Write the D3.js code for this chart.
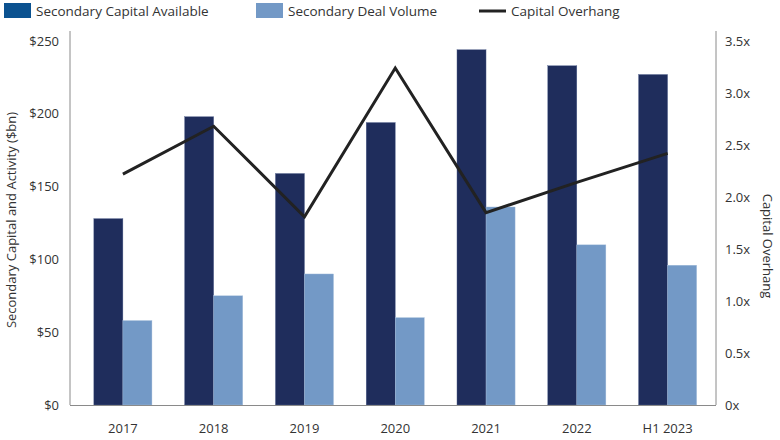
<!DOCTYPE html>
<html><head><meta charset="utf-8">
<script src="https://cdn.jsdelivr.net/npm/d3@7"></script>
<style>body{margin:0;background:#fff}svg{display:block;font-family:"Open Sans",sans-serif}</style>
</head><body><svg id="c" width="780" height="440"></svg>
<script>
const categories = ["2017","2018","2019","2020","2021","2022","H1 2023"];
const capitalAvailable = [128,198,159,194,244,233,227];
const dealVolume = [58,75,90,60,136,110,96];
const overhang = [2.22,2.68,1.81,3.24,1.85,2.14,2.42];
const leftTicks = [0,50,100,150,200,250];
const rightTicks = [0,0.5,1,1.5,2,2.5,3,3.5];

const svg = d3.select("#c");
const x0 = 77.5, x1 = 713, yTop = 41, yBot = 405, axL = 70, axR = 716;
const x = d3.scaleBand().domain(categories).range([x0, x1]).paddingInner(0.36).paddingOuter(0.18);
const xs = d3.scaleBand().domain(["a","b"]).range([0, x.bandwidth()]);
const y = d3.scaleLinear().domain([0,250]).range([yBot, yTop]);
const y2 = d3.scaleLinear().domain([0,3.5]).range([yBot, yTop]);
const dark = "#1f2d5c", light = "#7399c6";

// bars
const g = svg.append("g");
categories.forEach((c,i)=>{
  g.append("rect").attr("x", x(c)+xs("a")).attr("y", y(capitalAvailable[i]))
    .attr("width", xs.bandwidth()).attr("height", yBot - y(capitalAvailable[i]))
    .attr("fill", dark).attr("stroke","#5a6a94").attr("stroke-width",0.4);
  g.append("rect").attr("x", x(c)+xs("b")).attr("y", y(dealVolume[i]))
    .attr("width", xs.bandwidth()).attr("height", yBot - y(dealVolume[i]))
    .attr("fill", light).attr("stroke","#a9c0dd").attr("stroke-width",0.4);
});

// axes lines
svg.append("line").attr("x1",axL).attr("x2",axL).attr("y1",31).attr("y2",yBot).attr("stroke","#8a8a8a").attr("stroke-width",1);
svg.append("line").attr("x1",axR).attr("x2",axR).attr("y1",31).attr("y2",yBot).attr("stroke","#8a8a8a").attr("stroke-width",1);
svg.append("line").attr("x1",axL).attr("x2",axR).attr("y1",yBot+0.5).attr("y2",yBot+0.5).attr("stroke","#8a8a8a").attr("stroke-width",1);

const ly = svg.append("g").attr("transform",`translate(${axL},0)`)
  .call(d3.axisLeft(y).tickValues(leftTicks).tickSize(0).tickPadding(11).tickFormat(d=>"$"+d));
ly.select(".domain").remove();
ly.selectAll("text").attr("font-size",13).attr("fill","#333").attr("font-family","'Open Sans',sans-serif");

const ry = svg.append("g").attr("transform",`translate(${axR},0)`)
  .call(d3.axisRight(y2).tickValues(rightTicks).tickSize(0).tickPadding(9).tickFormat(d=> (d===0?"0":d3.format(".1f")(d))+"x"));
ry.select(".domain").remove();
ry.selectAll("text").attr("font-size",13).attr("fill","#333").attr("font-family","'Open Sans',sans-serif");

const bx = svg.append("g").attr("transform",`translate(0,${yBot})`)
  .call(d3.axisBottom(x).tickSize(0).tickPadding(19));
bx.select(".domain").remove();
bx.selectAll("text").attr("font-size",13).attr("fill","#333").attr("font-family","'Open Sans',sans-serif");

// line
const line = d3.line().x((d,i)=>x(categories[i])+x.bandwidth()/2).y(d=>y2(d));
svg.append("path").datum(overhang).attr("d",line).attr("fill","none")
  .attr("stroke","#222").attr("stroke-width",3).attr("stroke-linejoin","miter");

// axis titles
svg.append("text").attr("transform","translate(16,220) rotate(-90)").attr("text-anchor","middle")
  .attr("font-size",13).attr("fill","#333").text("Secondary Capital and Activity ($bn)");
svg.append("text").attr("transform","translate(763,246) rotate(90)").attr("text-anchor","middle")
  .attr("font-size",13).attr("fill","#333").text("Capital Overhang");

// legend
const leg = svg.append("g");
leg.append("rect").attr("x",4).attr("y",3).attr("width",27).attr("height",15).attr("fill","#0b5290");
leg.append("text").attr("x",36).attr("y",16).attr("font-size",13.5).attr("fill","#333").text("Secondary Capital Available");
leg.append("rect").attr("x",256).attr("y",3).attr("width",27).attr("height",15).attr("fill",light);
leg.append("text").attr("x",288).attr("y",16).attr("font-size",13.5).attr("fill","#333").text("Secondary Deal Volume");
leg.append("line").attr("x1",479).attr("x2",506).attr("y1",11).attr("y2",11).attr("stroke","#222").attr("stroke-width",3);
leg.append("text").attr("x",511).attr("y",16).attr("font-size",13.5).attr("fill","#333").text("Capital Overhang");
</script></body></html>
